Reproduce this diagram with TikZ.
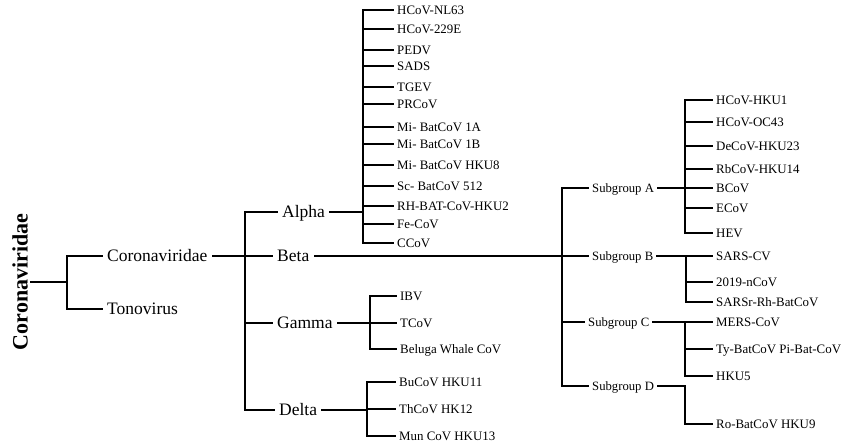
\documentclass[tikz,border=0pt]{standalone}
\usepackage{fontspec}
\setmainfont{Liberation Serif}

\tikzset{
    link/.style={line width=1.9pt, line cap=rect},
    family/.style={font=\fontsize{22}{26}\selectfont\bfseries, rotate=90},
    rank/.style={font=\fontsize{17.5}{20}\selectfont, anchor=west, inner xsep=5pt, inner ysep=0pt, text height=11.6pt, text depth=0pt},
    subgroup/.style={font=\fontsize{12.7}{15}\selectfont, anchor=west, inner xsep=4pt, inner ysep=0pt, text height=8.4pt, text depth=0pt},
    leaf/.style={font=\fontsize{12.9}{15}\selectfont, anchor=west, inner xsep=4pt, inner ysep=0pt, text height=8.5pt, text depth=0pt},
}

\begin{document}
\begin{tikzpicture}[x=1pt, y=-1pt]
    \useasboundingbox (0,0) rectangle (844,445);

    % ===== FAMILY =====
    \node[family] (root) at (20,282) {Coronaviridae};
    \coordinate (rootbar) at (67,282);
    \node[rank] (corona) at (102,256) {Coronaviridae};
    \node[rank] (tono) at (102,309) {Tonovirus};
    \draw[link] (root.south) -- (rootbar);
    \draw[link] (corona.west) -| (rootbar) |- (tono.west);

    % ===== GENERA =====
    \coordinate (genbar) at (245,256);
    \node[rank] (alpha) at (277,212) {Alpha};
    \node[rank] (beta) at (272,256) {Beta};
    \node[rank] (gamma) at (272,323) {Gamma};
    \node[rank] (delta) at (274,410) {Delta};
    \draw[link] (alpha.west) -| (genbar) |- (delta.west);
    \draw[link] (genbar |- gamma.west) -- (gamma.west);
    \draw[link] (corona.east) -- (beta.west);

    % Alpha species
    \coordinate (alphabar) at (363,212);
    \draw[link] (alpha.east) -- (alphabar);
    \foreach \y/\t [count=\i] in {10/HCoV-NL63, 29/HCoV-229E, 50/PEDV, 66/SADS,
        87/TGEV, 104/PRCoV, 127/Mi- BatCoV 1A, 144/Mi- BatCoV 1B,
        165/Mi- BatCoV HKU8, 186/Sc- BatCoV 512, 206/RH-BAT-CoV-HKU2,
        224/Fe-CoV, 243/CCoV} {
        \node[leaf] (al\i) at (393,\y) {\t};
        \draw[link] (alphabar |- al\i.west) -- (al\i.west);
    }
    \draw[link] (alphabar |- al1.west) -- (alphabar |- al13.west);

    % Gamma species
    \coordinate (gammabar) at (370,323);
    \draw[link] (gamma.east) -- (gammabar);
    \foreach \y/\t [count=\i] in {296/IBV, 323/TCoV, 349/Beluga Whale CoV} {
        \node[leaf] (ga\i) at (396,\y) {\t};
        \draw[link] (gammabar |- ga\i.west) -- (ga\i.west);
    }
    \draw[link] (gammabar |- ga1.west) -- (gammabar |- ga3.west);

    % Delta species
    \coordinate (deltabar) at (367,410);
    \draw[link] (delta.east) -- (deltabar);
    \foreach \y/\t [count=\i] in {382/BuCoV HKU11, 409/ThCoV HK12, 436/Mun CoV HKU13} {
        \node[leaf] (de\i) at (395,\y) {\t};
        \draw[link] (deltabar |- de\i.west) -- (de\i.west);
    }
    \draw[link] (deltabar |- de1.west) -- (deltabar |- de3.west);

    % ===== BETA SUBGROUPS =====
    \coordinate (subbar) at (562,256);
    \node[subgroup] (subA) at (588,188) {Subgroup A};
    \node[subgroup] (subB) at (588,256) {Subgroup B};
    \node[subgroup] (subC) at (584,322) {Subgroup C};
    \node[subgroup] (subD) at (588,386) {Subgroup D};
    \draw[link] (beta.east) -- (subB.west);
    \draw[link] (subA.west) -| (subbar) |- (subD.west);
    \draw[link] (subbar |- subC.west) -- (subC.west);

    % Subgroup A
    \coordinate (barA) at (685,188);
    \draw[link] (subA.east) -- (barA);
    \foreach \y/\t [count=\i] in {100/HCoV-HKU1, 122/HCoV-OC43, 146/DeCoV-HKU23,
        169/RbCoV-HKU14, 188/BCoV, 208/ECoV, 233/HEV} {
        \node[leaf] (sa\i) at (712,\y) {\t};
        \draw[link] (barA |- sa\i.west) -- (sa\i.west);
    }
    \draw[link] (barA |- sa1.west) -- (barA |- sa7.west);

    % Subgroup B
    \coordinate (barB) at (686,256);
    \draw[link] (subB.east) -- (barB);
    \foreach \y/\t [count=\i] in {256/SARS-CV, 282/2019-nCoV, 302/SARSr-Rh-BatCoV} {
        \node[leaf] (sb\i) at (712,\y) {\t};
        \draw[link] (barB |- sb\i.west) -- (sb\i.west);
    }
    \draw[link] (barB |- sb1.west) -- (barB |- sb3.west);

    % Subgroup C
    \coordinate (barC) at (685,322);
    \draw[link] (subC.east) -- (barC);
    \foreach \y/\t [count=\i] in {322/MERS-CoV, 349/Ty-BatCoV Pi-Bat-CoV, 376/HKU5} {
        \node[leaf] (sc\i) at (712,\y) {\t};
        \draw[link] (barC |- sc\i.west) -- (sc\i.west);
    }
    \draw[link] (barC |- sc1.west) -- (barC |- sc3.west);

    % Subgroup D
    \coordinate (barD) at (685,386);
    \node[leaf] (sd1) at (712,424) {Ro-BatCoV HKU9};
    \draw[link] (subD.east) -- (barD) |- (sd1.west);
\end{tikzpicture}
\end{document}
